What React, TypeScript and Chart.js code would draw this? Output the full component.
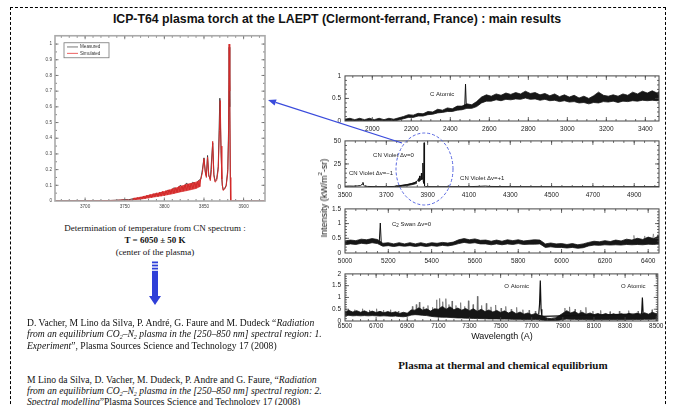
import React, { useEffect, useRef } from "react";
import { Chart, registerables } from "chart.js";
Chart.register(...registerables);

// ---------------- Left panel: CN violet fit ----------------
const cnXTicks = [3700, 3750, 3800, 3850, 3900];
const cnXLabels = ["3700", "3750", "3800", "3850", "3900"];
const cnYTicks = [0, 0.1, 0.2, 0.3, 0.4, 0.5, 0.6, 0.7, 0.8, 0.9, 1];
const cnYLabels = ["0", "0.1", "0.2", "0.3", "0.4", "0.5", "0.6", "0.7", "0.8", "0.9", "1"];

const cnMeasX = [3662, 3700, 3730, 3745, 3750, 3755, 3760, 3765, 3770, 3775, 3780, 3784, 3788, 3792, 3796, 3800, 3804, 3808, 3812, 3816, 3820, 3824, 3828, 3832, 3836, 3840, 3843, 3846, 3848, 3850, 3852, 3853, 3854.5, 3856, 3858, 3861, 3862.5, 3864, 3866, 3868, 3870, 3871.5, 3873, 3874.5, 3876, 3878, 3880, 3881, 3881.8, 3882.5, 3883.5, 3927];
const cnMeasY = [0.002, 0.002, 0.003, 0.006, 0.009, 0.008, 0.014, 0.012, 0.022, 0.02, 0.033, 0.028, 0.045, 0.038, 0.055, 0.045, 0.068, 0.058, 0.085, 0.07, 0.1, 0.08, 0.115, 0.09, 0.12, 0.1, 0.13, 0.14, 0.2, 0.275, 0.17, 0.16, 0.29, 0.16, 0.14, 0.37, 0.17, 0.13, 0.14, 0.22, 0.655, 0.32, 0.1, 0.072, 0.08, 0.1, 0.2, 0.45, 0.98, 0.6, 0, 0];

const cnSimX = [3662, 3700, 3720, 3740, 3750, 3755, 3760, 3762, 3764, 3766, 3768, 3770, 3772, 3774, 3776, 3778, 3780, 3782, 3784, 3786, 3788, 3790, 3792, 3794, 3796, 3798, 3800, 3802, 3804, 3806, 3808, 3810, 3812, 3814, 3816, 3818, 3820, 3822, 3824, 3826, 3828, 3830, 3832, 3834, 3836, 3838, 3840, 3842, 3844, 3846, 3848, 3850, 3851.5, 3853, 3854.5, 3856, 3858, 3859.5, 3861, 3862.5, 3864, 3866, 3868, 3869.5, 3870.5, 3871.5, 3872.5, 3874, 3876, 3878, 3880, 3881, 3881.7, 3882.5, 3883.3, 3883.8, 3890, 3927];
const cnSimY = [0, 0.001, 0.002, 0.004, 0.007, 0.005, 0.006, 0.018, 0.009, 0.022, 0.011, 0.026, 0.013, 0.032, 0.016, 0.037, 0.018, 0.042, 0.022, 0.047, 0.026, 0.052, 0.028, 0.056, 0.031, 0.062, 0.034, 0.066, 0.04, 0.072, 0.044, 0.079, 0.048, 0.085, 0.055, 0.092, 0.058, 0.097, 0.063, 0.104, 0.068, 0.108, 0.071, 0.113, 0.077, 0.118, 0.082, 0.122, 0.09, 0.14, 0.18, 0.27, 0.19, 0.15, 0.28, 0.17, 0.13, 0.2, 0.38, 0.16, 0.12, 0.13, 0.2, 0.45, 0.64, 0.35, 0.14, 0.068, 0.075, 0.095, 0.18, 0.4, 1.0, 0.7, 0.15, 0, 0, 0];
const cnBandX = [3760, 3770, 3780, 3790, 3800, 3810, 3820, 3830, 3840, 3846];
const cnBandLo = [0.008, 0.012, 0.02, 0.028, 0.036, 0.046, 0.058, 0.068, 0.08, 0.095];
const cnBandHi = [0.016, 0.024, 0.036, 0.048, 0.06, 0.075, 0.092, 0.108, 0.12, 0.135];

// ---------------- Right panel 1: 1860-3470 A ----------------
const p1XTicks = [2000, 2200, 2400, 2600, 2800, 3000, 3200, 3400];
const p1XLabels = ["2000", "2200", "2400", "2600", "2800", "3000", "3200", "3400"];
const p1YTicks = [0, 0.5, 1];
const p1YLabels = ["0", "0.5", "1"];
const p1X = [1860, 1885, 1910, 1935, 1960, 1985, 2010, 2035, 2060, 2085, 2110, 2135, 2160, 2185, 2210, 2235, 2260, 2285, 2310, 2335, 2360, 2385, 2410, 2435, 2460, 2485, 2510, 2535, 2560, 2585, 2610, 2635, 2660, 2685, 2710, 2735, 2760, 2785, 2810, 2835, 2860, 2885, 2910, 2935, 2960, 2985, 3010, 3035, 3060, 3085, 3110, 3135, 3160, 3185, 3210, 3235, 3260, 3285, 3310, 3335, 3360, 3385, 3410, 3435, 3460, 3470];
const p1Lo = [0, 0.01, 0, 0.01, 0, 0.01, 0, 0.01, 0, 0.01, 0, 0.02, 0.05, 0.08, 0.08, 0.11, 0.11, 0.14, 0.15, 0.18, 0.19, 0.21, 0.21, 0.24, 0.25, 0.28, 0.28, 0.32, 0.4, 0.44, 0.44, 0.47, 0.45, 0.48, 0.47, 0.49, 0.48, 0.51, 0.48, 0.49, 0.46, 0.48, 0.45, 0.46, 0.43, 0.45, 0.42, 0.43, 0.4, 0.41, 0.38, 0.41, 0.4, 0.43, 0.42, 0.44, 0.41, 0.44, 0.43, 0.45, 0.44, 0.46, 0.45, 0.46, 0.45, 0.46];
const p1Hi = [0.04, 0.06, 0.03, 0.06, 0.03, 0.06, 0.03, 0.06, 0.03, 0.06, 0.04, 0.07, 0.1, 0.14, 0.13, 0.17, 0.16, 0.21, 0.2, 0.26, 0.24, 0.29, 0.27, 0.33, 0.33, 0.38, 0.36, 0.43, 0.53, 0.58, 0.55, 0.6, 0.57, 0.62, 0.59, 0.63, 0.6, 0.66, 0.61, 0.63, 0.58, 0.61, 0.56, 0.6, 0.54, 0.58, 0.53, 0.57, 0.51, 0.55, 0.5, 0.56, 0.64, 0.57, 0.55, 0.58, 0.55, 0.6, 0.57, 0.64, 0.6, 0.66, 0.62, 0.67, 0.62, 0.65];
const p1LineX = [2474, 2478, 2482];
const p1LineY = [0.32, 0.82, 0.32];

// ---------------- Right panel 2: 3500-5020 A ----------------
const p2XTicks = [3500, 3700, 3900, 4100, 4300, 4500, 4700, 4900];
const p2XLabels = ["3500", "3700", "3900", "4100", "4300", "4500", "4700", "4900"];
const p2YTicks = [0, 25, 50];
const p2YLabels = ["0", "25", "50"];
const p2X = [3500, 3520, 3540, 3560, 3575, 3583, 3587, 3590, 3595, 3610, 3650, 3700, 3740, 3760, 3780, 3800, 3820, 3835, 3845, 3852, 3856, 3858, 3861, 3863, 3867, 3870, 3872, 3874, 3877, 3879, 3881, 3883, 3885, 3890, 3950, 4000, 4100, 4150, 4180, 4200, 4300, 4500, 4700, 5020];
const p2Y = [0.8, 1.0, 0.9, 1.2, 1.5, 3.0, 5.0, 2.0, 1.0, 0.6, 0.4, 0.4, 0.6, 1.0, 1.8, 2.5, 3.5, 4.5, 5.5, 7, 9, 6, 12, 7, 8, 15, 8, 9, 26, 6, 4, 48, 1, 0.4, 0.3, 0.3, 0.4, 0.7, 1.0, 0.6, 0.4, 0.3, 0.3, 0.3];
const p2BandX = [3740, 3760, 3780, 3800, 3815, 3830, 3840, 3848];
const p2BandLo = [0.3, 0.6, 1.0, 1.5, 2.1, 2.8, 3.4, 4.2];
const p2BandHi = [0.9, 1.4, 2.0, 2.7, 3.4, 4.3, 5.2, 6.4];

// ---------------- Right panel 3: 5000-6450 A ----------------
const p3XTicks = [5000, 5200, 5400, 5600, 5800, 6000, 6200, 6400];
const p3XLabels = ["5000", "5200", "5400", "5600", "5800", "6000", "6200", "6400"];
const p3YTicks = [0, 0.5, 1, 1.5];
const p3YLabels = ["0", "0.5", "1", "1.5"];
const p3X = [5000, 5025, 5050, 5075, 5100, 5125, 5150, 5175, 5200, 5225, 5250, 5275, 5300, 5325, 5350, 5375, 5400, 5425, 5450, 5475, 5500, 5525, 5550, 5575, 5600, 5625, 5650, 5675, 5700, 5725, 5750, 5775, 5800, 5825, 5850, 5875, 5900, 5925, 5950, 5975, 6000, 6025, 6050, 6075, 6100, 6125, 6150, 6175, 6200, 6225, 6250, 6275, 6300, 6325, 6350, 6375, 6400, 6425, 6450];
const p3Lo = [0.28, 0.31, 0.29, 0.33, 0.31, 0.35, 0.32, 0.23, 0.25, 0.22, 0.25, 0.23, 0.25, 0.22, 0.25, 0.22, 0.25, 0.23, 0.26, 0.24, 0.27, 0.32, 0.36, 0.33, 0.35, 0.31, 0.31, 0.28, 0.31, 0.28, 0.31, 0.29, 0.32, 0.29, 0.3, 0.3, 0.31, 0.19, 0.21, 0.19, 0.19, 0.17, 0.19, 0.16, 0.18, 0.24, 0.27, 0.26, 0.28, 0.27, 0.28, 0.27, 0.29, 0.28, 0.29, 0.28, 0.3, 0.29, 0.31];
const p3Hi = [0.41, 0.44, 0.42, 0.47, 0.45, 0.49, 0.46, 0.33, 0.35, 0.31, 0.35, 0.31, 0.35, 0.31, 0.35, 0.31, 0.35, 0.33, 0.36, 0.34, 0.37, 0.45, 0.49, 0.45, 0.48, 0.43, 0.44, 0.4, 0.44, 0.4, 0.45, 0.42, 0.45, 0.41, 0.43, 0.45, 0.44, 0.31, 0.34, 0.31, 0.32, 0.29, 0.32, 0.28, 0.31, 0.36, 0.4, 0.38, 0.42, 0.39, 0.44, 0.41, 0.47, 0.44, 0.5, 0.46, 0.54, 0.49, 0.58];
const p3LineX = [5158, 5163, 5168];
const p3LineY = [0.34, 1.02, 0.25];
const p3NoiseX = [6330, 6334, 6338, 6380, 6384, 6388, 6420, 6424, 6428, 6440, 6444, 6448];
const p3NoiseY = [0.4, 0.6, 0.4, 0.42, 0.58, 0.42, 0.45, 0.65, 0.45, 0.5, 0.62, 0.5];

// ---------------- Right panel 4: 6500-8510 A ----------------
const p4XTicks = [6500, 6700, 6900, 7100, 7300, 7500, 7700, 7900, 8100, 8300, 8500];
const p4XLabels = ["6500", "6700", "6900", "7100", "7300", "7500", "7700", "7900", "8100", "8300", "8500"];
const p4YTicks = [0, 0.5, 1, 1.5, 2];
const p4YLabels = ["0", "0.5", "1", "1.5", "2"];
const p4X = [6500, 6525, 6550, 6575, 6600, 6625, 6650, 6675, 6700, 6725, 6750, 6775, 6800, 6825, 6850, 6875, 6900, 6925, 6950, 6975, 7000, 7025, 7050, 7075, 7100, 7125, 7150, 7175, 7200, 7225, 7250, 7275, 7300, 7325, 7350, 7375, 7400, 7425, 7450, 7475, 7500, 7525, 7550, 7575, 7600, 7625, 7650, 7675, 7700, 7725, 7750, 7775, 7800, 7825, 7850, 7875, 7900, 7925, 7950, 7975, 8000, 8025, 8050, 8075, 8100, 8125, 8150, 8175, 8200, 8225, 8250, 8275, 8300, 8325, 8350, 8375, 8400, 8425, 8450, 8475, 8500, 8510];
const p4Lo = [0.22, 0.24, 0.22, 0.23, 0.22, 0.23, 0.22, 0.23, 0.22, 0.21, 0.22, 0.21, 0.2, 0.21, 0.19, 0.18, 0.2, 0.25, 0.27, 0.26, 0.24, 0.23, 0.2, 0.18, 0.17, 0.16, 0.16, 0.15, 0.14, 0.13, 0.13, 0.12, 0.12, 0.11, 0.11, 0.1, 0.1, 0.09, 0.09, 0.09, 0.08, 0.08, 0.08, 0.07, 0.07, 0.07, 0.06, 0.06, 0.06, 0.06, 0.05, 0.03, 0.01, 0.01, 0.02, 0.03, 0.06, 0.08, 0.07, 0.07, 0.06, 0.06, 0.06, 0.05, 0.05, 0.05, 0.05, 0.05, 0.05, 0.05, 0.05, 0.05, 0.05, 0.06, 0.06, 0.06, 0.06, 0.07, 0.07, 0.07, 0.08, 0.08];
const p4Hi = [0.4, 0.45, 0.38, 0.44, 0.37, 0.43, 0.36, 0.42, 0.36, 0.41, 0.35, 0.4, 0.35, 0.39, 0.32, 0.37, 0.33, 0.47, 0.46, 0.56, 0.46, 0.52, 0.42, 0.52, 0.5, 0.62, 0.5, 0.6, 0.48, 0.55, 0.46, 0.53, 0.44, 0.52, 0.41, 0.5, 0.4, 0.47, 0.38, 0.45, 0.36, 0.43, 0.34, 0.41, 0.31, 0.38, 0.29, 0.34, 0.27, 0.32, 0.25, 0.2, 0.12, 0.1, 0.12, 0.22, 0.33, 0.44, 0.34, 0.4, 0.31, 0.37, 0.29, 0.34, 0.27, 0.32, 0.26, 0.32, 0.25, 0.31, 0.25, 0.31, 0.25, 0.33, 0.26, 0.33, 0.27, 0.35, 0.29, 0.37, 0.31, 0.37];
const p4NoiseX = [6520, 6523, 6526, 6560, 6563, 6566, 6610, 6613, 6616, 6655, 6658, 6661, 6700, 6703, 6706, 6745, 6748, 6751, 6790, 6793, 6796, 6840, 6843, 6846, 6930, 6933, 6936, 6955, 6958, 6961, 6975, 6978, 6981, 7000, 7003, 7006, 7030, 7033, 7036, 7060, 7063, 7066, 7085, 7088, 7091, 7105, 7108, 7111, 7125, 7128, 7131, 7145, 7148, 7151, 7165, 7168, 7171, 7185, 7188, 7191, 7210, 7213, 7216, 7240, 7243, 7246, 7265, 7268, 7271, 7290, 7293, 7296, 7320, 7323, 7326, 7348, 7351, 7354, 7375, 7378, 7381, 7405, 7408, 7411, 7435, 7438, 7441, 7465, 7468, 7471, 7500, 7503, 7506, 7530, 7533, 7536, 7565, 7568, 7571, 7600, 7603, 7606, 7640, 7643, 7646, 7680, 7683, 7686, 7720, 7723, 7726, 7800, 7880, 7910, 7913, 7916, 7940, 7943, 7946, 7975, 7978, 7981, 8010, 8013, 8016, 8045, 8048, 8051, 8090, 8093, 8096, 8140, 8143, 8146, 8200, 8203, 8206, 8260, 8263, 8266, 8320, 8323, 8326, 8380, 8383, 8386, 8470, 8473, 8476, 8500];
const p4NoiseY = [0.3, 0.5, 0.3, 0.3, 0.48, 0.3, 0.3, 0.52, 0.3, 0.3, 0.47, 0.3, 0.3, 0.52, 0.3, 0.3, 0.46, 0.3, 0.28, 0.48, 0.28, 0.28, 0.42, 0.28, 0.35, 0.62, 0.35, 0.38, 0.7, 0.38, 0.38, 0.8, 0.38, 0.38, 0.6, 0.38, 0.36, 0.66, 0.36, 0.36, 0.58, 0.36, 0.38, 0.9, 0.38, 0.4, 0.96, 0.4, 0.42, 0.82, 0.42, 0.42, 0.95, 0.42, 0.4, 0.7, 0.4, 0.4, 0.85, 0.4, 0.38, 0.66, 0.38, 0.38, 0.78, 0.38, 0.36, 0.62, 0.36, 0.36, 0.86, 0.36, 0.34, 0.7, 0.34, 0.34, 1.05, 0.34, 0.32, 0.66, 0.32, 0.32, 0.75, 0.32, 0.3, 0.6, 0.3, 0.3, 0.68, 0.3, 0.28, 0.55, 0.28, 0.28, 0.62, 0.28, 0.26, 0.5, 0.26, 0.25, 0.58, 0.25, 0.24, 0.48, 0.24, 0.22, 0.46, 0.22, 0.2, 0.42, 0.2, 0.08, 0.2, 0.3, 0.55, 0.3, 0.3, 0.6, 0.3, 0.28, 0.5, 0.28, 0.27, 0.45, 0.27, 0.25, 0.58, 0.25, 0.24, 0.42, 0.24, 0.22, 0.45, 0.22, 0.22, 0.4, 0.22, 0.22, 0.42, 0.22, 0.24, 0.44, 0.24, 0.25, 0.42, 0.25, 0.28, 0.48, 0.28, 0.3];
const p4LineX = [7745, 7750, 7755, 7760, 7765, 8406, 8411, 8416];
const p4LineY = [0.3, 0.7, 1.72, 0.5, 0.2, 0.3, 1.0, 0.3];

// ---------------- helpers ----------------
type Note = { x: number; y: number; parts: { t: string; sub?: boolean }[] };
type Spec = {
  box: { left: number; top: number; width: number; height: number };
  area: { l: number; t: number; r: number; b: number };
  xMin: number; xMax: number; yMin: number; yMax: number;
  xTicks: number[]; xLabels: string[]; yTicks: number[]; yLabels: string[];
  xMinor: number; yMinor: number;
  datasets: any[];
  font: number; labelColor: string; frameColor: string; frameWidth: number; tickColor: string;
  majorLen: number; minorLen: number; padX: number; padY: number;
  notes?: Note[]; noteFont?: number;
  legend?: boolean;
};

const pts = (xs: number[], ys: number[]) => xs.map((x, i) => ({ x, y: ys[i] }));
const lineDs = (xs: number[], ys: number[], color: string, width: number) => ({
  data: pts(xs, ys), borderColor: color, borderWidth: width, pointRadius: 0, fill: false, tension: 0,
});
const bandDs = (xs: number[], lo: number[], hi: number[], color: string, fillColor?: string) => [
  { data: pts(xs, hi), borderColor: color, borderWidth: 0.8, backgroundColor: fillColor || color, pointRadius: 0, fill: "+1", tension: 0 },
  { data: pts(xs, lo), borderColor: color, borderWidth: 0.8, pointRadius: 0, fill: false, tension: 0 },
];

const FONT = "'Liberation Sans', Arial, Helvetica, sans-serif";

const framePlugin = {
  id: "frameTicks",
  afterDatasetsDraw(chart: any, _args: any, o: any) {
    const { ctx, chartArea: a, scales } = chart;
    const x = scales.x, y = scales.y;
    ctx.save();
    ctx.strokeStyle = o.tickColor;
    ctx.lineWidth = 0.8;
    ctx.beginPath();
    const xTick = (v: number, len: number) => {
      const px = x.getPixelForValue(v);
      if (px < a.left + 0.5 || px > a.right - 0.5) return;
      ctx.moveTo(px, a.bottom); ctx.lineTo(px, a.bottom - len);
      ctx.moveTo(px, a.top); ctx.lineTo(px, a.top + len);
    };
    const yTick = (v: number, len: number) => {
      const py = y.getPixelForValue(v);
      if (py < a.top + 0.5 || py > a.bottom - 0.5) return;
      ctx.moveTo(a.left, py); ctx.lineTo(a.left + len, py);
      ctx.moveTo(a.right, py); ctx.lineTo(a.right - len, py);
    };
    for (let v = Math.ceil(x.min / o.xMinor) * o.xMinor; v <= x.max; v += o.xMinor) xTick(v, o.minorLen);
    for (let v = Math.ceil(y.min / o.yMinor) * o.yMinor; v <= y.max + 1e-9; v += o.yMinor) yTick(v, o.minorLen);
    o.xTicks.forEach((v: number) => xTick(v, o.majorLen));
    o.yTicks.forEach((v: number) => yTick(v, o.majorLen));
    ctx.stroke();
    ctx.strokeStyle = o.frameColor;
    ctx.lineWidth = o.frameWidth;
    ctx.strokeRect(a.left, a.top, a.right - a.left, a.bottom - a.top);

    // annotations in data coordinates
    ctx.fillStyle = "#222";
    ctx.textBaseline = "middle";
    (o.notes || []).forEach((n: Note) => {
      let px = x.getPixelForValue(n.x);
      const py = y.getPixelForValue(n.y);
      n.parts.forEach((p) => {
        const fs = p.sub ? o.noteFont * 0.75 : o.noteFont;
        ctx.font = `${fs}px ${FONT}`;
        ctx.fillText(p.t, px, p.sub ? py + o.noteFont * 0.3 : py);
        px += ctx.measureText(p.t).width;
      });
    });

    if (o.legend) {
      const lx = a.left + 9, ly = a.top + 7, lw = 45, lh = 15;
      ctx.strokeStyle = "#777";
      ctx.lineWidth = 0.8;
      ctx.strokeRect(lx, ly, lw, lh);
      const items = [["Measured", "#555"], ["Simulated", "#e83a3a"]];
      ctx.font = `4.6px ${FONT}`;
      items.forEach(([label, color], i) => {
        const yy = ly + 4.2 + i * 6.4;
        ctx.strokeStyle = color;
        ctx.beginPath(); ctx.moveTo(lx + 3, yy); ctx.lineTo(lx + 14, yy); ctx.stroke();
        ctx.fillStyle = "#333";
        ctx.fillText(label, lx + 16, yy);
      });
    }
    ctx.restore();
  },
};

function Panel({ spec }: { spec: Spec }) {
  const ref = useRef<HTMLCanvasElement | null>(null);
  useEffect(() => {
    const s = spec;
    const yW = s.area.l - s.box.left;
    const padR = s.box.left + s.box.width - s.area.r;
    const padT = s.area.t - s.box.top;
    const xH = s.box.top + s.box.height - s.area.b;
    const font = { family: FONT, size: s.font };
    const chart = new Chart(ref.current as HTMLCanvasElement, {
      type: "line",
      data: { datasets: s.datasets },
      plugins: [framePlugin],
      options: {
        responsive: false,
        animation: false,
        devicePixelRatio: 1,
        layout: { padding: { left: 0, right: padR, top: padT, bottom: 0 } },
        plugins: {
          legend: { display: false },
          tooltip: { enabled: false },
          frameTicks: {
            xTicks: s.xTicks, yTicks: s.yTicks, xMinor: s.xMinor, yMinor: s.yMinor,
            frameColor: s.frameColor, frameWidth: s.frameWidth, tickColor: s.tickColor,
            majorLen: s.majorLen, minorLen: s.minorLen, notes: s.notes, noteFont: s.noteFont, legend: s.legend,
          },
        } as any,
        scales: {
          x: {
            type: "linear", min: s.xMin, max: s.xMax,
            afterFit: (sc: any) => { sc.height = xH; },
            afterBuildTicks: (sc: any) => { sc.ticks = s.xTicks.map((v) => ({ value: v })); },
            grid: { display: false, drawTicks: false },
            border: { display: false },
            ticks: { font, color: s.labelColor, padding: s.padX, maxRotation: 0, autoSkip: false,
              callback: (_v: any, i: number) => s.xLabels[i] },
          },
          y: {
            type: "linear", min: s.yMin, max: s.yMax,
            afterFit: (sc: any) => { sc.width = yW; },
            afterBuildTicks: (sc: any) => { sc.ticks = s.yTicks.map((v) => ({ value: v })); },
            grid: { display: false, drawTicks: false },
            border: { display: false },
            ticks: { font, color: s.labelColor, padding: s.padY, autoSkip: false,
              callback: (_v: any, i: number) => s.yLabels[i] },
          },
        },
      } as any,
    });
    return () => chart.destroy();
  }, [spec]);
  return (
    <canvas
      ref={ref}
      width={spec.box.width}
      height={spec.box.height}
      style={{ position: "absolute", left: spec.box.left, top: spec.box.top, width: spec.box.width, height: spec.box.height }}
    />
  );
}

const rightCommon = {
  font: 6.5, labelColor: "#222", frameColor: "#444", frameWidth: 1, tickColor: "#444",
  majorLen: 4, minorLen: 2, padX: 4, padY: 4, noteFont: 6,
};

const leftSpec: Spec = {
  box: { left: 30, top: 30, width: 240, height: 182 },
  area: { l: 55, t: 35, r: 265, b: 201 },
  xMin: 3662, xMax: 3927, yMin: 0, yMax: 1.053,
  xTicks: cnXTicks, xLabels: cnXLabels, yTicks: cnYTicks, yLabels: cnYLabels,
  xMinor: 10, yMinor: 0.05,
  datasets: [
    lineDs(cnSimX, cnSimY, "#d42a2a", 1),
    ...bandDs(cnBandX, cnBandLo, cnBandHi, "rgba(215,45,45,0.9)"),
    lineDs(cnMeasX, cnMeasY, "#333", 0.9),
  ],
  font: 4.6, labelColor: "#444", frameColor: "#aaa", frameWidth: 1.6, tickColor: "#666",
  majorLen: 3.5, minorLen: 2, padX: 3, padY: 3, legend: true,
};

const p1Spec: Spec = {
  ...rightCommon,
  box: { left: 318, top: 68, width: 347, height: 65 },
  area: { l: 345, t: 74, r: 659, b: 121 },
  xMin: 1860, xMax: 3470, yMin: 0, yMax: 1,
  xTicks: p1XTicks, xLabels: p1XLabels, yTicks: p1YTicks, yLabels: p1YLabels,
  xMinor: 50, yMinor: 0.1,
  datasets: [lineDs(p1LineX, p1LineY, "#111", 1), ...bandDs(p1X, p1Lo, p1Hi, "#161616")],
  notes: [{ x: 2296, y: 0.6, parts: [{ t: "C Atomic" }] }],
};

const p2Spec: Spec = {
  ...rightCommon,
  box: { left: 318, top: 133, width: 347, height: 66 },
  area: { l: 345, t: 139, r: 659, b: 187 },
  xMin: 3500, xMax: 5020, yMin: 0, yMax: 50,
  xTicks: p2XTicks, xLabels: p2XLabels, yTicks: p2YTicks, yLabels: p2YLabels,
  xMinor: 50, yMinor: 5,
  datasets: [lineDs(p2X, p2Y, "#111", 1), ...bandDs(p2BandX, p2BandLo, p2BandHi, "#161616")],
  notes: [
    { x: 3636, y: 34.4, parts: [{ t: "CN Violet \u0394v=0" }] },
    { x: 3519, y: 14.6, parts: [{ t: "CN Violet \u0394v=\u22121" }] },
    { x: 4057, y: 9.4, parts: [{ t: "CN Violet \u0394v=+1" }] },
  ],
};

const p3Spec: Spec = {
  ...rightCommon,
  box: { left: 318, top: 201, width: 347, height: 64 },
  area: { l: 345, t: 207, r: 659, b: 253 },
  xMin: 5000, xMax: 6450, yMin: 0, yMax: 1.5,
  xTicks: p3XTicks, xLabels: p3XLabels, yTicks: p3YTicks, yLabels: p3YLabels,
  xMinor: 50, yMinor: 0.1,
  datasets: [
    lineDs(p3LineX, p3LineY, "#111", 1),
    ...bandDs(p3X, p3Lo, p3Hi, "#161616"),
    lineDs(p3NoiseX, p3NoiseY, "#777", 0.7),
  ],
  notes: [{ x: 5217, y: 0.99, parts: [{ t: "C" }, { t: "2", sub: true }, { t: " Swan \u0394v=0" }] }],
};

const p4Spec: Spec = {
  ...rightCommon,
  padX: 1.5,
  box: { left: 318, top: 266, width: 347, height: 67 },
  area: { l: 345, t: 272, r: 659, b: 321 },
  xMin: 6500, xMax: 8510, yMin: 0, yMax: 2,
  xTicks: p4XTicks, xLabels: p4XLabels, yTicks: p4YTicks, yLabels: p4YLabels,
  xMinor: 50, yMinor: 0.1,
  datasets: [
    lineDs(p4LineX, p4LineY, "#111", 1.2),
    ...bandDs(p4X, p4Lo, p4Hi, "#161616"),
    lineDs(p4NoiseX, p4NoiseY, "#666", 0.7),
  ],
  notes: [
    { x: 7524, y: 1.47, parts: [{ t: "O Atomic" }] },
    { x: 8273, y: 1.47, parts: [{ t: "O Atomic" }] },
  ],
};

const serif = "'Liberation Serif', 'Times New Roman', serif";
const subStyle: React.CSSProperties = { fontSize: 6, position: "relative", top: 2, lineHeight: 0 };

function Overlay() {
  // blue arrow from the ellipse to the left panel
  const sx = 402, sy = 143, ex = 268, ey = 100;
  const dx = ex - sx, dy = ey - sy;
  const L = Math.hypot(dx, dy);
  const ux = dx / L, uy = dy / L;
  const bx = ex - ux * 8, by = ey - uy * 8;
  const head = `${ex},${ey} ${bx - uy * 3.2},${by + ux * 3.2} ${bx + uy * 3.2},${by - ux * 3.2}`;
  return (
    <svg width={674} height={405} style={{ position: "absolute", left: 0, top: 0, pointerEvents: "none" }}>
      <line x1={sx} y1={sy} x2={bx} y2={by} stroke="#3a4bdc" strokeWidth={1.2} />
      <polygon points={head} fill="#3a4bdc" />
      <ellipse cx={424.5} cy={169} rx={28.5} ry={36} fill="none" stroke="#5564e0" strokeWidth={1} strokeDasharray="3 2" />
      <rect x={152} y={261.5} width={6} height={1.8} fill="#2f3fd8" />
      <rect x={152} y={264.6} width={6} height={1.8} fill="#2f3fd8" />
      <rect x={152} y={267.7} width={6} height={1.8} fill="#2f3fd8" />
      <rect x={152} y={270.8} width={6} height={25.5} fill="#2f3fd8" />
      <polygon points="149,296 161,296 155,305" fill="#2f3fd8" />
    </svg>
  );
}

export default function App() {
  return (
    <div style={{ position: "absolute", left: 0, top: 0, width: 674, height: 405, overflow: "hidden", background: "#fff" }}>
      <div style={{ position: "absolute", left: 10, top: 7, width: 654, height: 420, border: "1px dashed #000" }} />
      <div style={{ position: "absolute", left: 0, width: 674, top: 12, textAlign: "center", font: `bold 12.3px ${FONT}`, color: "#111", whiteSpace: "nowrap" }}>
        ICP-T64 plasma torch at the LAEPT (Clermont-ferrand, France) : main results
      </div>

      <Panel spec={leftSpec} />
      <Panel spec={p1Spec} />
      <Panel spec={p2Spec} />
      <Panel spec={p3Spec} />
      <Panel spec={p4Spec} />

      <div style={{ position: "absolute", left: 324, top: 198, transform: "translate(-50%,-50%) rotate(-90deg)", font: `9px ${FONT}`, color: "#111", whiteSpace: "nowrap" }}>
        Intensity (kW/m<sup style={{ fontSize: 6, position: "relative", top: -1, lineHeight: 0 }}>2</sup>-sr)
      </div>
      <div style={{ position: "absolute", left: 502, top: 336, transform: "translate(-50%,-50%)", font: `9px ${FONT}`, color: "#111", whiteSpace: "nowrap" }}>
        Wavelength (A)
      </div>

      <div style={{ position: "absolute", left: 155, top: 222, transform: "translateX(-50%)", font: `9px/12px ${serif}`, color: "#111", textAlign: "center", whiteSpace: "nowrap" }}>
        Determination of temperature from CN spectrum :<br />
        <b>T = 6050 ± 50 K</b><br />
        (center of the plasma)
      </div>

      <div style={{ position: "absolute", left: 27, top: 317, font: `9.6px/11.3px ${serif}`, color: "#111", whiteSpace: "nowrap" }}>
        D. Vacher, M Lino da Silva, P. André, G. Faure and M. Dudeck “<i>Radiation</i><br />
        <i>from an equilibrium CO<span style={subStyle}>2</span>–N<span style={subStyle}>2</span> plasma in the [250–850 nm] spectral region: 1.</i><br />
        <i>Experiment</i>”, Plasma Sources Science and Technology 17 (2008)
      </div>
      <div style={{ position: "absolute", left: 27, top: 373.5, font: `9.6px/11.3px ${serif}`, color: "#111", whiteSpace: "nowrap" }}>
        M Lino da Silva, D. Vacher, M. Dudeck, P. Andre and G. Faure, “<i>Radiation</i><br />
        <i>from an equilibrium CO<span style={subStyle}>2</span>–N<span style={subStyle}>2</span> plasma in the [250–850 nm] spectral region: 2.</i><br />
        <i>Spectral modelling</i>”Plasma Sources Science and Technology 17 (2008)
      </div>

      <div style={{ position: "absolute", left: 503, top: 365, transform: "translate(-50%,-50%)", font: `bold 11px ${serif}`, color: "#111", whiteSpace: "nowrap" }}>
        Plasma at thermal and chemical equilibrium
      </div>

      <Overlay />
    </div>
  );
}
